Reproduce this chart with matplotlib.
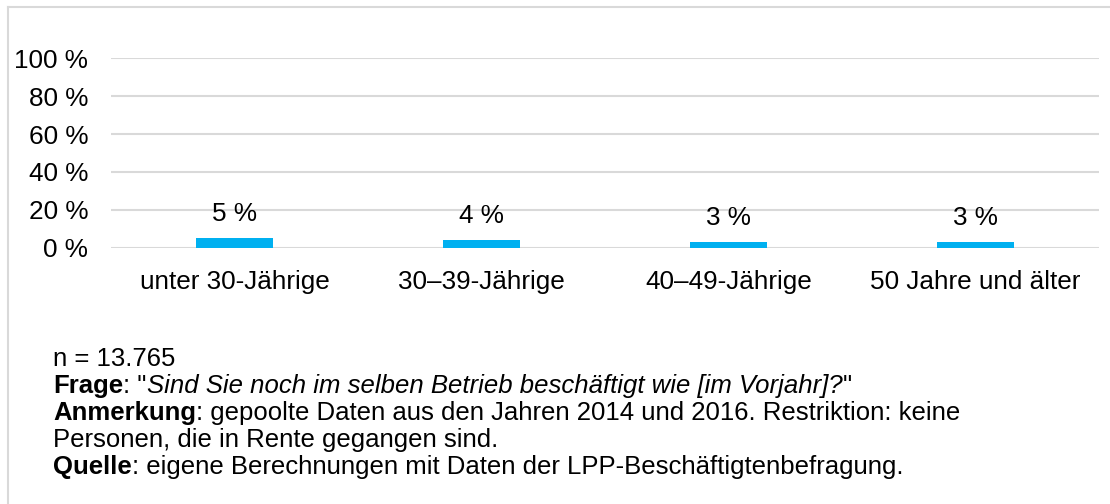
import matplotlib.pyplot as plt
import numpy as np

plt.rcParams['font.family'] = ['Liberation Sans', 'DejaVu Sans']

# data
kategorien = ["unter 30-Jährige", "30–39-Jährige", "40–49-Jährige", "50 Jahre und älter"]
anteile = [0.05, 0.04, 0.03, 0.03]
beschriftung = ["5 %", "4 %", "3 %", "3 %"]
y_ticks = [0, 0.2, 0.4, 0.6, 0.8, 1.0]
y_labels = ["0 %", "20 %", "40 %", "60 %", "80 %", "100 %"]

fig = plt.figure(figsize=(11.1, 5.04), dpi=100)
ax = fig.add_axes([0.1, 0.5085, 0.89, 0.3758])

x = np.arange(len(kategorien))
ax.bar(x, anteile, width=0.31, color='#00B0F0', zorder=3)

for xi, v, lab in zip(x, anteile, beschriftung):
    ax.annotate(lab, (xi, v), xytext=(0, 12.5), textcoords='offset points',
                ha='center', va='baseline', fontsize=18.8)

ax.set_xlim(-0.5, len(kategorien) - 0.5)
ax.set_ylim(0, 1)
ax.set_yticks(y_ticks)
ax.set_yticklabels(y_labels)
ax.set_xticks(x)
ax.set_xticklabels(kategorien)
ax.tick_params(axis='y', length=0, pad=16.5, labelsize=18.8)
ax.tick_params(axis='x', length=0, pad=16, labelsize=18.8)
ax.grid(axis='y', color='#D9D9D9', linewidth=1.5, zorder=0)
for s in ax.spines.values():
    s.set_visible(False)

# frame lines (left and top only)
fig.add_artist(plt.Line2D([0.0072, 0.0072], [0, 0.986], transform=fig.transFigure, color='#D9D9D9', lw=1.5))
fig.add_artist(plt.Line2D([0.0072, 1], [0.986, 0.986], transform=fig.transFigure, color='#D9D9D9', lw=1.5))

renderer = fig.canvas.get_renderer()


# footer with mixed styles, pieces placed one after another on one baseline
def zeile(y, teile, fs=18.5):
    x0 = 0.048
    for txt, weight, style in teile:
        t = fig.text(x0, y, txt, fontsize=fs, fontweight=weight,
                     fontstyle=style, va='baseline', ha='left')
        bb = t.get_window_extent(renderer)
        x0 = bb.x1 / fig.bbox.width


zeile(0.274, [("n = 13.765", 'normal', 'normal')])
zeile(0.220, [("Frage", 'bold', 'normal'), (': "', 'normal', 'normal'),
              ("Sind Sie noch im selben Betrieb beschäftigt wie [im Vorjahr]?", 'normal', 'italic'),
              ('"', 'normal', 'normal')])
zeile(0.167, [("Anmerkung", 'bold', 'normal'),
              (": gepoolte Daten aus den Jahren 2014 und 2016. Restriktion: keine", 'normal', 'normal')])
zeile(0.113, [("Personen, die in Rente gegangen sind.", 'normal', 'normal')])
zeile(0.060, [("Quelle", 'bold', 'normal'),
              (": eigene Berechnungen mit Daten der LPP-Beschäftigtenbefragung.", 'normal', 'normal')])

fig.savefig("out.png", dpi=100)
